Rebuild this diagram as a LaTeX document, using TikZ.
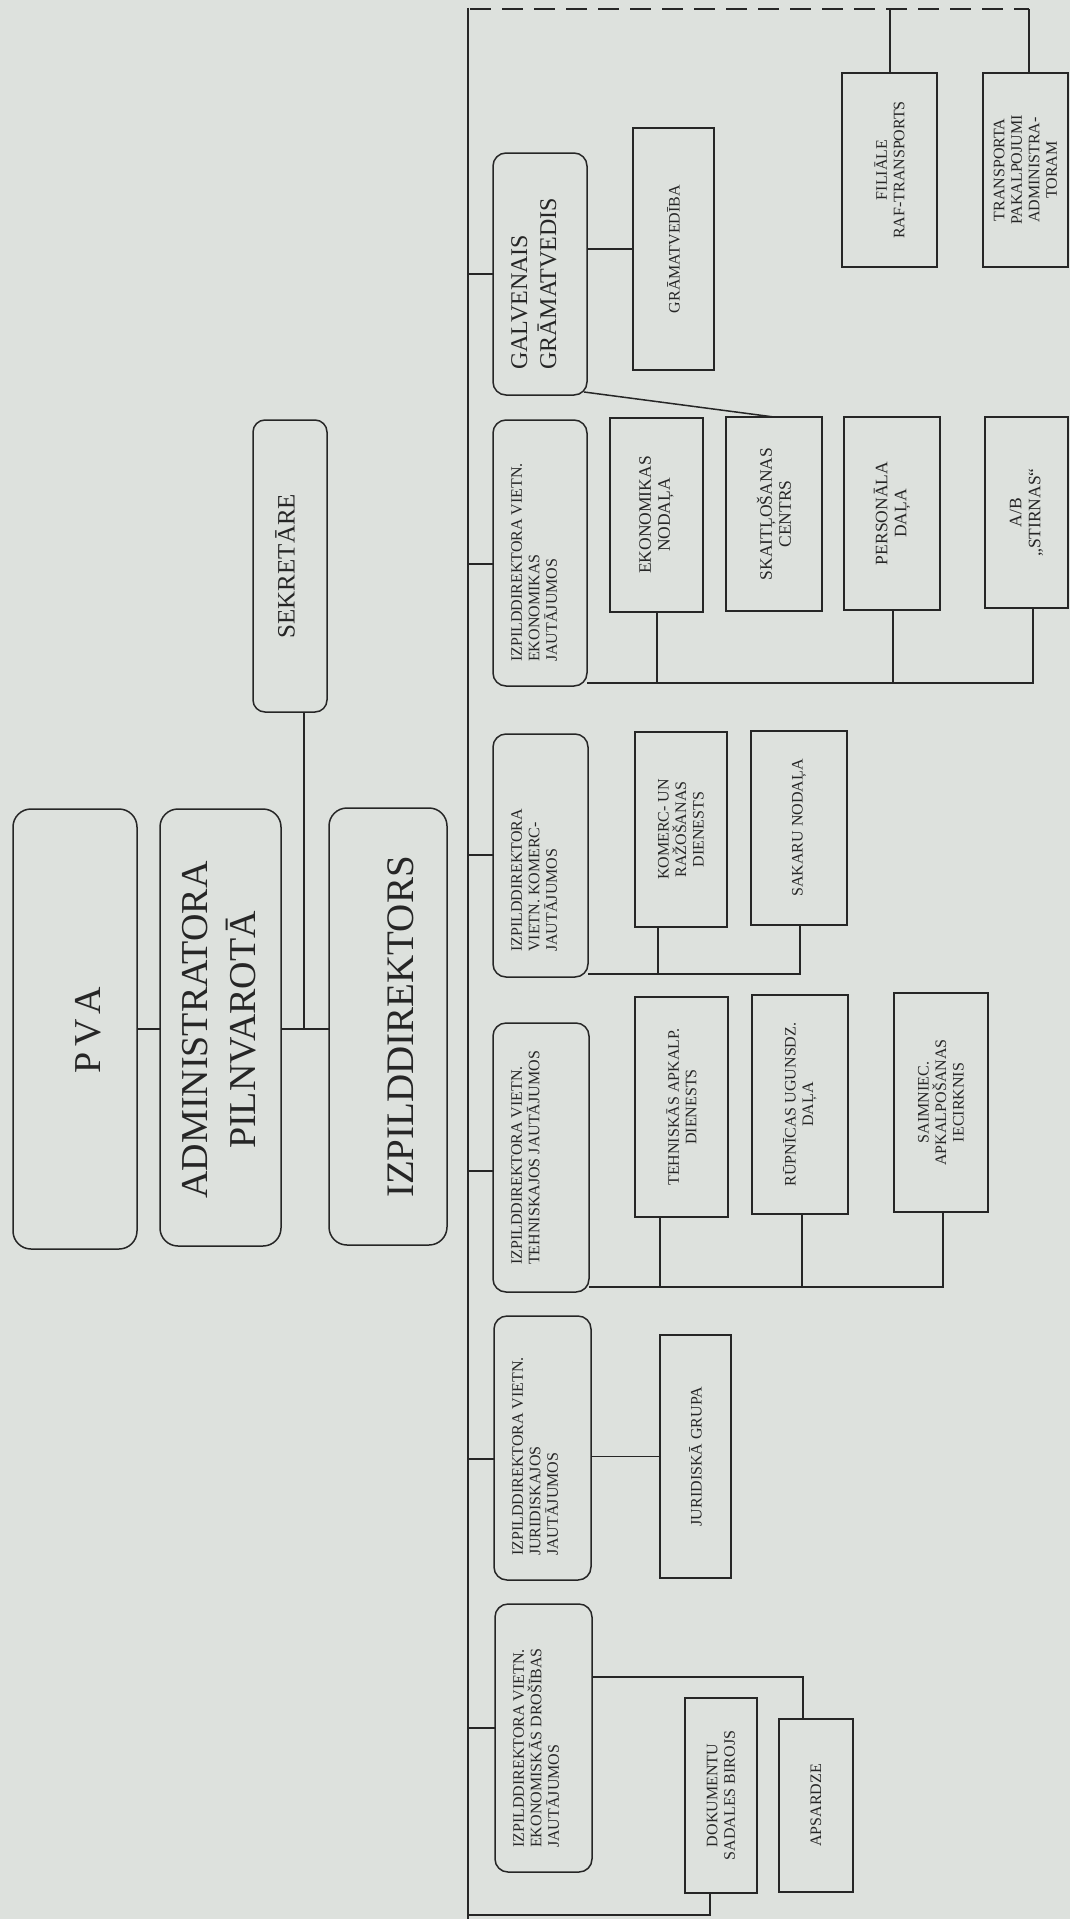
\documentclass[tikz,border=0pt]{standalone}
\usepackage{fontspec}
\setmainfont{Liberation Serif}
\usetikzlibrary{calc}
\definecolor{paper}{RGB}{221,225,221}
\definecolor{ink}{RGB}{38,38,38}
\tikzset{
  bx/.style={draw=ink, line width=1.5pt, inner sep=0pt, outer sep=0pt},
  rbig/.style={bx, rounded corners=18pt},
  rdep/.style={bx, rounded corners=13pt},
  rsek/.style={bx, rounded corners=12pt},
  sq/.style={bx},
  txt/.style={rotate=90, inner sep=0pt, text=ink, align=center, font=\fontsize{16}{17.5}\selectfont},
  etxt/.style={txt, font=\fontsize{17.5}{19}\selectfont},
  dtxt/.style={txt, align=left, anchor=north west},
  bigtxt/.style={txt, font=\fontsize{38}{48}\selectfont},
  conn/.style={draw=ink, line width=1.5pt},
  dashconn/.style={conn, dash pattern=on 21pt off 11pt},
}
\newcommand\ebox[6]{\node[#1, minimum width={#4pt-#3pt}, minimum height={#6pt-#5pt}] (#2) at ({(#3+#4)/2},{(#5+#6)/2}) {};}
\begin{document}
\begin{tikzpicture}[x=1pt,y=-1pt]
\fill[paper] (0,0) rectangle (1070,1919);
\useasboundingbox (0,0) rectangle (1070,1919);
% top level
\ebox{rbig}{pva}{13}{137}{809}{1249}
\ebox{rbig}{adm}{160}{281}{809}{1246}
\ebox{rbig}{izp}{329}{447}{808}{1245}
\ebox{rsek}{sek}{253}{327}{420}{712}
\node[bigtxt] (tpva) at (88,1030) {P\hspace{5pt}V\hspace{5pt}A};
\node[bigtxt] (tadm) at (219,1030) {ADMINISTRATORA\\PILNVAROTĀ};
\node[bigtxt, font=\fontsize{39}{48}\selectfont] (tizp) at (401,1027) {IZPILDDIREKTORS};
\node[txt, font=\fontsize{25}{30}\selectfont] (tsek) at (285,566) {SEKRETĀRE};
% deputies
\ebox{rdep}{d1}{493}{587}{153}{395}
\ebox{rdep}{d2}{493}{587}{420}{686}
\ebox{rdep}{d3}{493}{588}{734}{977}
\ebox{rdep}{d4}{493}{589}{1023}{1292}
\ebox{rdep}{d5}{494}{591}{1316}{1580}
\ebox{rdep}{d6}{495}{592}{1604}{1872}
\node[dtxt, font=\fontsize{24}{29}\selectfont] (td1) at ($(d1.south west)+(18,-25)$) {GALVENAIS\\GRĀMATVEDIS};
\node[dtxt] (td2) at ($(d2.south west)+(18,-24)$) {IZPILDDIREKTORA VIETN.\\EKONOMIKAS\\JAUTĀJUMOS};
\node[dtxt] (td3) at ($(d3.south west)+(18,-25)$) {IZPILDDIREKTORA\\VIETN. KOMERC-\\JAUTĀJUMOS};
\node[dtxt] (td4) at ($(d4.south west)+(18,-27)$) {IZPILDDIREKTORA VIETN.\\TEHNISKAJOS JAUTĀJUMOS};
\node[dtxt] (td5) at ($(d5.south west)+(18,-24)$) {IZPILDDIREKTORA VIETN.\\JURIDISKAJOS\\JAUTĀJUMOS};
\node[dtxt] (td6) at ($(d6.south west)+(18,-24)$) {IZPILDDIREKTORA VIETN.\\EKONOMISKĀS DROŠĪBAS\\JAUTĀJUMOS};
% sub units
\ebox{sq}{gram}{633}{714}{128}{370}
\ebox{sq}{ekn}{610}{703}{418}{612}
\ebox{sq}{skt}{726}{822}{417}{611}
\ebox{sq}{pers}{844}{940}{417}{610}
\ebox{sq}{ab}{985}{1068}{417}{608}
\ebox{sq}{fil}{842}{937}{73}{267}
\ebox{sq}{tra}{983}{1068}{73}{267}
\ebox{sq}{komd}{635}{727}{732}{927}
\ebox{sq}{sak}{751}{847}{731}{925}
\ebox{sq}{tehn}{635}{728}{997}{1217}
\ebox{sq}{rup}{752}{848}{995}{1214}
\ebox{sq}{saim}{894}{988}{993}{1212}
\ebox{sq}{jurg}{660}{731}{1335}{1578}
\ebox{sq}{dok}{685}{757}{1698}{1893}
\ebox{sq}{aps}{779}{853}{1719}{1892}
\node[txt] (tgram) at (gram.center) {GRĀMATVEDĪBA};
\node[etxt] (tekn) at (ekn.center) {EKONOMIKAS\\NODAĻA};
\node[etxt] (tskt) at (skt.center) {SKAITĻOŠANAS\\CENTRS};
\node[etxt] (tpers) at (pers.center) {PERSONĀLA\\DAĻA};
\node[etxt] (tab) at (ab.center) {A/B\\„STIRNAS“};
\node[txt] (tfil) at (fil.center) {FILIĀLE\\RAF-TRANSPORTS};
\node[txt] (ttra) at (tra.center) {TRANSPORTA\\PAKALPOJUMI\\ADMINISTRA-\\TORAM};
\node[txt] (tkomd) at (komd.center) {KOMERC- UN\\RAŽOŠANAS\\DIENESTS};
\node[txt] (tsak) at (sak.center) {SAKARU NODAĻA};
\node[txt] (ttehn) at (tehn.center) {TEHNISKĀS APKALP.\\DIENESTS};
\node[txt] (trup) at (rup.center) {RŪPNĪCAS UGUNSDZ.\\DAĻA};
\node[txt] (tsaim) at (saim.center) {SAIMNIEC.\\APKALPOŠANAS\\IECIRKNIS};
\node[txt] (tjurg) at (jurg.center) {JURIDISKĀ GRUPA};
\node[txt] (tdok) at (dok.center) {DOKUMENTU\\SADALES BIROJS};
\node[txt] (taps) at (aps.center) {APSARDZE};
% connectors: top level
\coordinate (j1) at (304,1029);
\draw[conn] (pva.east |- j1) -- (adm.west |- j1);
\draw[conn] (adm.east |- j1) -- (izp.west |- j1);
\draw[conn] (j1 |- sek.south) -- (j1);
% spine and dashed line
\coordinate (sptop) at (468,8);
\coordinate (spbot) at (468,1919);
\draw[conn] (sptop) -- (spbot);
\coordinate (dr) at (1029,9);
\coordinate (df) at (890,9);
\draw[dashconn] (470,9) -- (dr);
\draw[conn] (dr) -- (dr |- tra.north);
\draw[conn] (df) -- (df |- fil.north);
% spine to deputies
\coordinate (c1) at (468,274);
\coordinate (c2) at (468,564);
\coordinate (c3) at (468,855);
\coordinate (c4) at (468,1171);
\coordinate (c5) at (468,1459);
\coordinate (c6) at (468,1728);
\draw[conn] (c1) -- (c1 -| d1.west);
\draw[conn] (c2) -- (c2 -| d2.west);
\draw[conn] (c3) -- (c3 -| d3.west);
\draw[conn] (c4) -- (c4 -| d4.west);
\draw[conn] (c5) -- (c5 -| d5.west);
\draw[conn] (c6) -- (c6 -| d6.west);
% chief accountant
\draw[conn] (d1.east |- gram.west) -- (gram.west);
\draw[conn] ([xshift=-3pt,yshift=3pt]d1.south east) -- (skt.north);
% economics group
\coordinate (e1) at (657,683);
\coordinate (e2) at (893,683);
\coordinate (e3) at (1033,683);
\draw[conn] (d2.east |- e3) -- (e3) -- (e3 |- ab.south);
\draw[conn] (e1) -- (e1 |- ekn.south);
\draw[conn] (e2) -- (e2 |- pers.south);
% commerce group
\coordinate (k1) at (658,974);
\coordinate (k2) at (800,974);
\draw[conn] (d3.east |- k1) -- (k2) -- (k2 |- sak.south);
\draw[conn] (k1) -- (k1 |- komd.south);
% technical group
\coordinate (h1) at (660,1287);
\coordinate (h2) at (802,1287);
\coordinate (h3) at (943,1287);
\draw[conn] (d4.east |- h1) -- (h3) -- (h3 |- saim.south);
\draw[conn] (h1) -- (h1 |- tehn.south);
\draw[conn] (h2) -- (h2 |- rup.south);
% legal
\draw[conn] (d5.east |- jurg.west) -- (jurg.west);
% security
\coordinate (a1) at (803,1677);
\draw[conn] (d6.east |- a1) -- (a1) -- (a1 |- aps.north);
\coordinate (b1) at (710,1915);
\draw[conn] (spbot |- b1) -- (b1) -- (b1 |- dok.south);
\end{tikzpicture}
\end{document}
